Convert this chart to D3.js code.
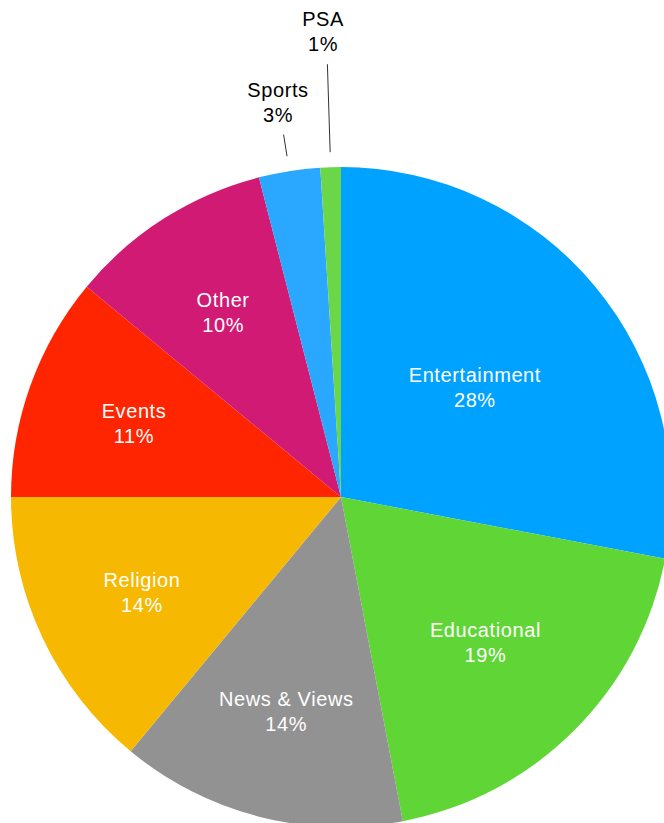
<!DOCTYPE html>
<html>
<head>
<meta charset="utf-8">
<script src="https://cdn.jsdelivr.net/npm/d3@7"></script>
<style>
  body { margin: 0; background: #fff; }
  svg { display: block; }
  text { font-family: "Helvetica Neue", Helvetica, "Liberation Sans", Arial, sans-serif; letter-spacing: 0.6px; }
</style>
</head>
<body>
<svg id="chart" width="664" height="823"></svg>
<script>
// chart data
var categories = ["Entertainment", "Educational", "News & Views", "Religion", "Events", "Other", "Sports", "PSA"];
var shares = [28, 19, 14, 14, 11, 10, 3, 1];
var colors = ["#00a2ff", "#5fd636", "#929292", "#f6b800", "#ff2500", "#d11a73", "#2aa8ff", "#6bd748"];
var outside = ["Sports", "PSA"];

var width = 664, height = 823;
var cx = 341, cy = 497, radius = 330;
var labelR = 220;
var maxRight = 541; // inside labels keep clear of the cut-off right edge

var svg = d3.select("#chart");
var g = svg.append("g").attr("transform", "translate(" + cx + "," + cy + ")");

var data = categories.map(function(c, i) { return {name: c, value: shares[i], color: colors[i]}; });

var pie = d3.pie().sort(null).value(function(d) { return d.value; });
var arc = d3.arc().innerRadius(0).outerRadius(radius);
var arcs = pie(data);

g.selectAll("path.slice")
  .data(arcs)
  .enter()
  .append("path")
  .attr("class", "slice")
  .attr("d", arc)
  .style("fill", function(d) { return d.data.color; });

function mid(d) { return (d.startAngle + d.endAngle) / 2; }

// labels inside the slices
var inner = arcs.filter(function(d) { return outside.indexOf(d.data.name) < 0; });
inner.forEach(function(d) {
  var a = mid(d);
  var t = g.append("text")
    .attr("text-anchor", "middle")
    .style("fill", "#fff")
    .style("font-size", "20px");
  t.append("tspan").attr("x", 0).attr("dy", "-0.2em").text(d.data.name);
  t.append("tspan").attr("x", 0).attr("dy", "1.25em").text(d.value + "%");
  var w = t.node().getBBox().width;
  var r = labelR;
  var sx = Math.sin(a);
  if (sx > 0 && cx + r * sx + w / 2 > maxRight) {
    r = (maxRight - w / 2 - cx) / sx;
  }
  var x = r * Math.sin(a), y = -r * Math.cos(a);
  t.attr("transform", "translate(" + x + "," + y + ")");
});

// small slices get labels outside with leader lines
var outerGap = 15;
var lineEnd = {"Sports": 367, "PSA": 433};
arcs.filter(function(d) { return outside.indexOf(d.data.name) >= 0; }).forEach(function(d) {
  var a = mid(d);
  var r0 = radius + outerGap, r1 = lineEnd[d.data.name];
  g.append("line")
    .attr("x1", r0 * Math.sin(a)).attr("y1", -r0 * Math.cos(a))
    .attr("x2", r1 * Math.sin(a)).attr("y2", -r1 * Math.cos(a))
    .style("stroke", "#333")
    .style("stroke-width", 1);
  var lx = (r1 + 10) * Math.sin(a) - 4, ly = -(r1 + 10) * Math.cos(a);
  var t = g.append("text")
    .attr("text-anchor", "middle")
    .attr("transform", "translate(" + lx + "," + ly + ")")
    .style("fill", "#000")
    .style("font-size", "20px");
  t.append("tspan").attr("x", 0).attr("dy", "-1.4em").text(d.data.name);
  t.append("tspan").attr("x", 0).attr("dy", "1.25em").text(d.value + "%");
});
</script>
</body>
</html>
